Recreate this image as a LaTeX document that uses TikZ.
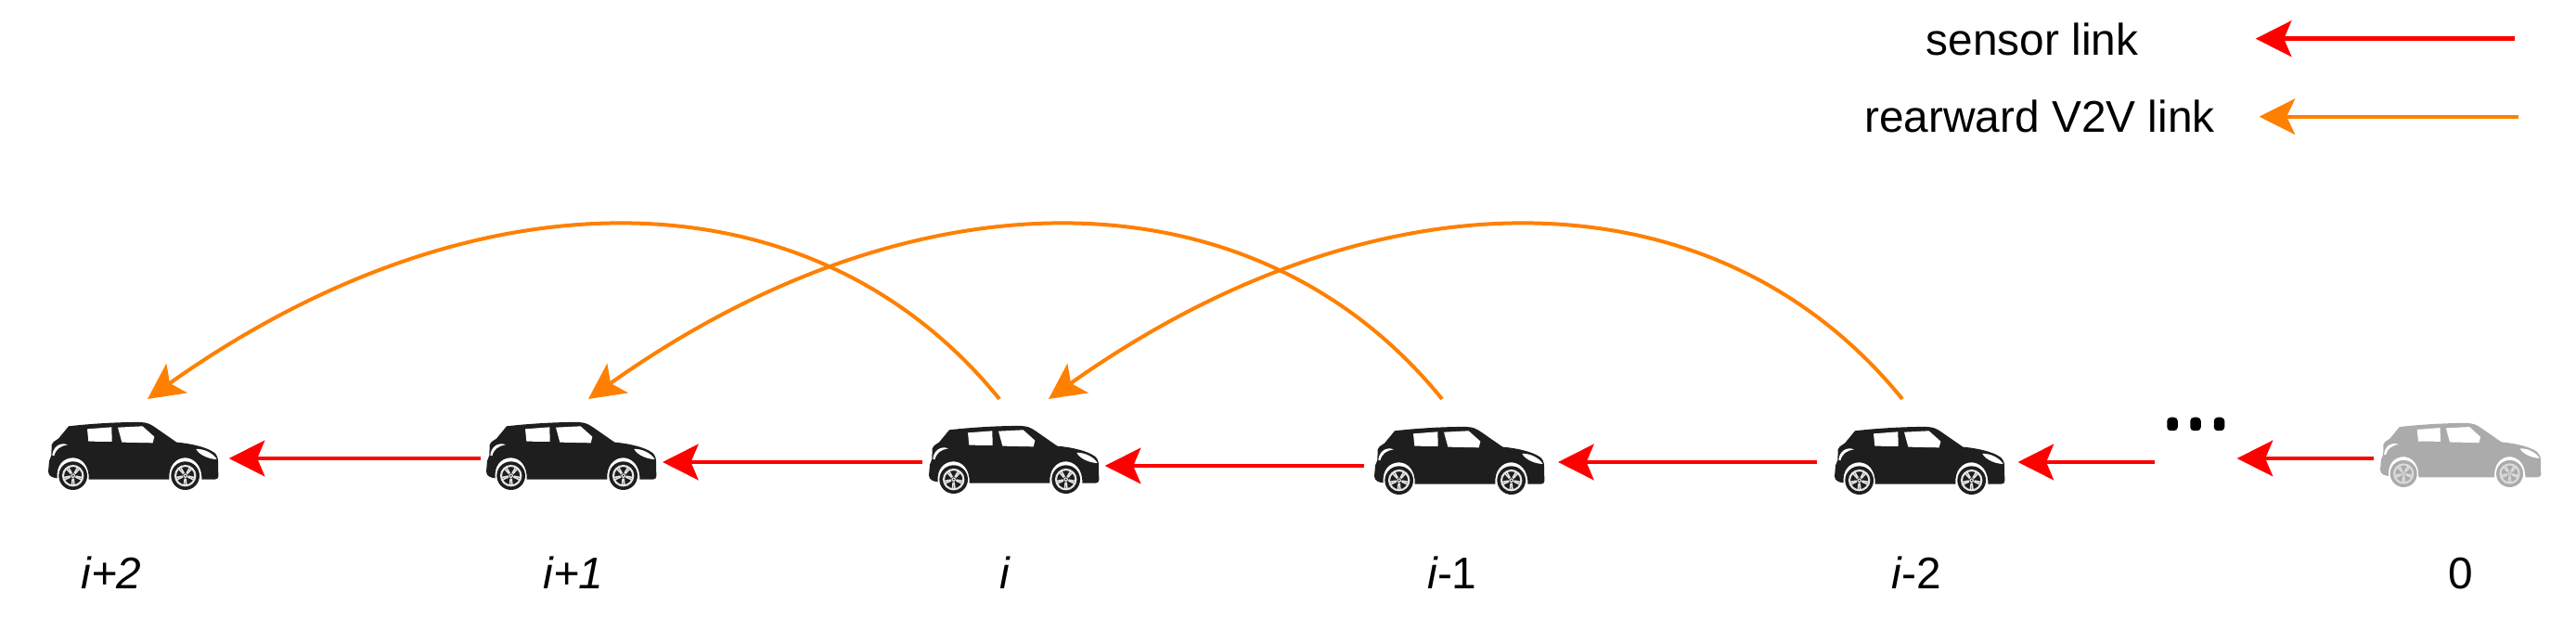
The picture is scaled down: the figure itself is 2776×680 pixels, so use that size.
\documentclass[tikz,border=0pt]{standalone}
\usepackage{fontspec}
\setmainfont{Liberation Sans}
\usetikzlibrary{arrows.meta}
\definecolor{carblack}{HTML}{1E1E1E}
\definecolor{cargray}{HTML}{ABABAB}
\definecolor{rimlight}{HTML}{E6E6E6}
\definecolor{rimgray}{HTML}{DADADA}
\definecolor{linkorange}{HTML}{FF8000}
\newcommand{\carwheel}[4]{%
  \begin{scope}[shift={(#1,#2)}]
    \fill[#3] (0,0) circle[radius=46];
    \draw[#4,line width=0.6pt] (0,0) circle[radius=32];
    \foreach \a in {90,162,234,306,18}{
      \draw[#4,line width=0.45pt] (\a-9:9) -- (\a-7:31);
      \draw[#4,line width=0.45pt] (\a+9:9) -- (\a+7:31);
    }
    \fill[#4] (0,0) circle[radius=7];
    \fill[#3] (0,0) circle[radius=3];
  \end{scope}}
\tikzset{
  x=0.01cm,y=-0.01cm,
  pics/car/.style n args={3}{code={
    \begin{scope}[xscale=1/3,yscale=1/3,shift={(-67,-105)}]
      \fill[#1] (133,118) .. controls (200,110) and (300,104) .. (365,105)
        .. controls (385,106) and (395,110) .. (410,120)
        -- (482,170)
        .. controls (530,174) and (580,186) .. (603,203)
        .. controls (612,210) and (616,220) .. (616,232)
        -- (617,280) .. controls (617,287) and (612,290) .. (605,290)
        -- (563,290)
        .. controls (565,242) and (535,220) .. (510,220)
        .. controls (480,220) and (455,245) .. (458,290)
        -- (198,290)
        .. controls (200,245) and (175,220) .. (147,220)
        .. controls (115,220) and (92,245) .. (96,286)
        .. controls (85,285) and (67,281) .. (67,265)
        -- (70,230) .. controls (72,222) and (76,218) .. (77,212)
        -- (78,178) .. controls (80,170) and (85,168) .. (100,158)
        -- (133,118) -- cycle;
      \fill[white] (193,127) -- (272,121) -- (273,168) -- (197,167) -- cycle;
      \fill[white] (292,122) -- (372,118) -- (410,152) -- (405,172) -- (305,170) -- cycle;
      \fill[white] (80,212) .. controls (82,185) and (105,168) .. (130,178)
        .. controls (105,182) and (92,192) .. (86,214) -- cycle;
      \fill[white] (545,192) .. controls (570,190) and (600,205) .. (612,225)
        .. controls (590,225) and (555,212) .. (545,192) -- cycle;
      \carwheel{147}{278}{#2}{#3}
      \carwheel{510}{278}{#2}{#3}
    \end{scope}}},
  sensorlink/.style={draw=red,line width=0.048cm,
    -{Stealth[length=0.385cm,width=0.385cm,inset=0.08cm,fill=red]}},
  rearlink/.style={draw=linkorange,line width=0.04cm,
    -{Stealth[length=0.385cm,width=0.385cm,inset=0.09cm,fill=linkorange]}},
  legendtext/.style={inner sep=0pt,font=\fontsize{13.6}{16}\selectfont,anchor=base},
  carlabel/.style={inner sep=0pt,font=\fontsize{13.6}{16}\selectfont,anchor=base},
  dotmark/.style={fill=black,rounded corners=0.04cm,inner sep=0pt,minimum width=0.115cm,minimum height=0.145cm}
}
\begin{document}
\begin{tikzpicture}
\useasboundingbox (0,0) rectangle (2776,680);
% cars
\pic at (52,455) {car={carblack}{carblack}{rimlight}};
\pic at (524,455) {car={carblack}{carblack}{rimlight}};
\pic at (1001,459) {car={carblack}{carblack}{rimlight}};
\pic at (1481,460) {car={carblack}{carblack}{rimlight}};
\pic at (1977,460) {car={carblack}{carblack}{rimlight}};
\pic[scale=0.945] at (2565,456) {car={cargray}{cargray}{rimgray}};
% sensor link ends
\coordinate (s1) at (246.7,494);
\coordinate (s2t) at (518,494);
\coordinate (s2) at (714,498);
\coordinate (s3t) at (994,498);
\coordinate (s3) at (1190.7,502);
\coordinate (s4t) at (1470,502);
\coordinate (s4) at (1679,498);
\coordinate (s5t) at (1958,498);
\coordinate (s5) at (2174.5,498);
\coordinate (dotst) at (2322,498);
\coordinate (dots) at (2410.6,494);
\coordinate (s0t) at (2558,494);
\draw[sensorlink] (s2t) -- (s1);
\draw[sensorlink] (s3t) -- (s2);
\draw[sensorlink] (s4t) -- (s3);
\draw[sensorlink] (s5t) -- (s4);
\draw[sensorlink] (dotst) -- (s5);
\draw[sensorlink] (s0t) -- (dots);
% ellipsis
\node[dotmark] (d1) at (2341,457) {};
\node[dotmark] (d2) at (2366,457) {};
\node[dotmark] (d3) at (2391.5,457) {};
% rearward links
\coordinate (a1s) at (1077,430);
\coordinate (a1e) at (159,430);
\coordinate (a2s) at (1554,430);
\coordinate (a2e) at (634,430);
\coordinate (a3s) at (2050,430);
\coordinate (a3e) at (1130,430);
\draw[rearlink] (a1s) .. controls +(-203,-250) and +(352,-250) .. (a1e);
\draw[rearlink] (a2s) .. controls +(-203,-250) and +(352,-250) .. (a2e);
\draw[rearlink] (a3s) .. controls +(-203,-250) and +(352,-250) .. (a3e);
% legend
\coordinate (lr1) at (2710,41.7);
\coordinate (lr2) at (2430.7,41.7);
\coordinate (lo1) at (2714,125.7);
\coordinate (lo2) at (2434.6,125.7);
\draw[sensorlink] (lr1) -- (lr2);
\draw[rearlink] (lo1) -- (lo2);
\node[legendtext] (t1) at (2190,60) {sensor link};
\node[legendtext] (t2) at (2198,143) {rearward V2V link};
% labels
\node[carlabel] (n1) at (120,635) {\itshape i+2};
\node[carlabel] (n2) at (618,635) {\itshape i+1};
\node[carlabel] (n3) at (1083,635) {\itshape i};
\node[carlabel] (n4) at (1565,635) {{\itshape i}-1};
\node[carlabel] (n5) at (2065,635) {{\itshape i}-2};
\node[carlabel] (n6) at (2652,635) {0};
\end{tikzpicture}
\end{document}
